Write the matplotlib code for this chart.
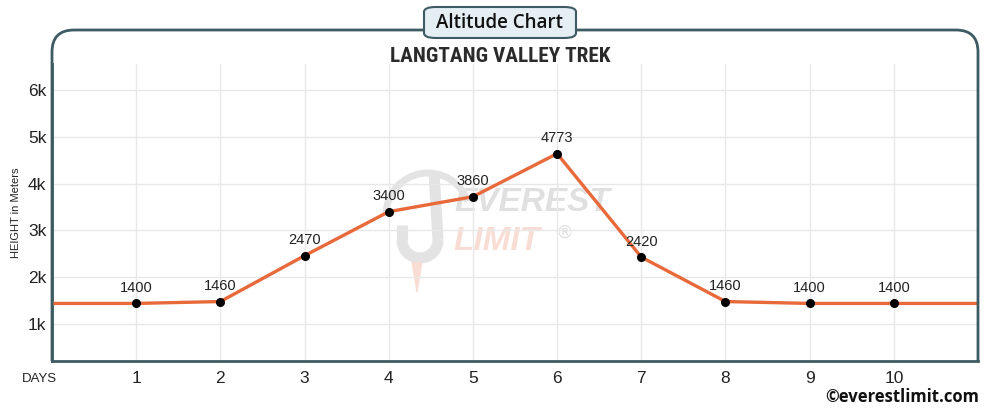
import matplotlib
matplotlib.use("Agg")
import matplotlib.pyplot as plt
from matplotlib import font_manager
from matplotlib.patches import FancyBboxPatch, Arc
from matplotlib.path import Path
from matplotlib.patches import PathPatch

days = [1, 2, 3, 4, 5, 6, 7, 8, 9, 10]
altitude = [1440, 1480, 2460, 3400, 3720, 4640, 2430, 1480, 1440, 1440]
labels = ["1400", "1460", "2470", "3400", "3860", "4773", "2420", "1460", "1400", "1400"]
ytick_vals = [1000, 2000, 3000, 4000, 5000, 6000]
ytick_labels = ["1k", "2k", "3k", "4k", "5k", "6k"]

FRAME = "#3e5a63"
LINE = "#e8693a"
SANS = "Liberation Sans"

# choose a condensed font for the subtitle if one is installed
names = {f.name for f in font_manager.fontManager.ttflist}
cond = None
for cand in ["Roboto Condensed", "Liberation Sans Narrow", "DejaVu Sans Condensed", "Open Sans Condensed"]:
    if cand in names:
        cond = cand
        break

fig = plt.figure(figsize=(10, 4.08), dpi=100)
W, H = 1000, 408

def fx(px):
    return px / W

def fy(py):
    return 1 - py / H

ax = fig.add_axes([fx(52), fy(361), fx(978) - fx(52), fy(64) - fy(361)])
ax.set_xlim(0, 11)
ax.set_ylim(210, 6555)
ax.set_xticks(range(0, 12))
ax.set_xticklabels([""] + [str(d) for d in days] + [""], family=SANS)
ax.set_yticks(ytick_vals)
ax.set_yticklabels(ytick_labels, family=SANS)
ax.grid(True, color="#e8e8e8", linewidth=1)
ax.set_axisbelow(True)
for s in ["top", "right"]:
    ax.spines[s].set_visible(False)
ax.spines["left"].set_color(FRAME)
ax.spines["bottom"].set_color(FRAME)
ax.spines["left"].set_linewidth(2)
ax.spines["bottom"].set_linewidth(2)
ax.tick_params(length=0, labelsize=12.5, colors="#222222")
ax.tick_params(axis="y", pad=4)
ax.tick_params(axis="x", pad=7)
ax.set_ylabel("HEIGHT in Meters", fontsize=8, color="#222222", labelpad=5, family=SANS)

# watermark text
ax.text(5.70, 3600, "EVEREST", fontsize=24, fontweight="bold", style="italic",
        color="#e0e0e0", ha="center", va="center", zorder=0.3, family=SANS)
ax.text(5.29, 2773, "LIMIT", fontsize=24, fontweight="bold", style="italic",
        color="#f8ddd4", ha="center", va="center", zorder=0.3, family=SANS)
ax.text(6.09, 2944, "®", fontsize=13, color="#e0e0e0", ha="center", va="center", zorder=0.3)

# watermark logo (drawn inside the axes, below the data)
WM = "#e3e3e3"
ax.add_patch(Arc((fx(428), fy(215)), fx(84), 84 / H, theta1=40, theta2=175,
                 transform=fig.transFigure, color=WM, linewidth=5, zorder=0.3))
ax.add_patch(Arc((fx(420), fy(240)), fx(36), 36 / H, theta1=180, theta2=360,
                 transform=fig.transFigure, color=WM, linewidth=8, zorder=0.3))
ax.add_patch(PathPatch(Path([(fx(438), fy(240)), (fx(434), fy(172))],
                            [Path.MOVETO, Path.LINETO]),
                       transform=fig.transFigure, edgecolor=WM, linewidth=8, zorder=0.3))
ax.add_patch(PathPatch(Path([(fx(402), fy(240)), (fx(402), fy(225))],
                            [Path.MOVETO, Path.LINETO]),
                       transform=fig.transFigure, edgecolor=WM, linewidth=8, zorder=0.3))
ax.add_patch(PathPatch(Path([(fx(412), fy(262)), (fx(417), fy(292)), (fx(422), fy(262))],
                            [Path.MOVETO, Path.LINETO, Path.LINETO]),
                       transform=fig.transFigure, edgecolor="#f8ddd4", facecolor="#f8ddd4",
                       linewidth=1, zorder=0.3))

# extended line
xs = [0] + days + [11]
ys = [altitude[0]] + altitude + [altitude[-1]]
ax.plot(xs, ys, color=LINE, linewidth=2.4, zorder=3, solid_joinstyle="round")
ax.plot(days, altitude, "o", color="black", markersize=5.5, zorder=4)
for d, a, lab in zip(days, altitude, labels):
    ax.annotate(lab, (d, a), xytext=(0, 6), textcoords="offset points",
                ha="center", va="bottom", fontsize=10.5, color="#222222", zorder=5,
                family=SANS)

# frame with rounded top corners
r = 22
x0, x1, y0, y1 = 52, 978, 30, 361
verts = [(x0, y1), (x0, y0 + r), (x0, y0), (x0 + r, y0), (x1 - r, y0), (x1, y0), (x1, y0 + r), (x1, y1)]
codes = [Path.MOVETO, Path.LINETO, Path.CURVE3, Path.CURVE3, Path.LINETO, Path.CURVE3, Path.CURVE3, Path.LINETO]
vf = [(fx(a), fy(b)) for a, b in verts]
fig.patches.append(PathPatch(Path(vf, codes), transform=fig.transFigure, fill=False,
                             edgecolor=FRAME, linewidth=2, zorder=10))

# title box
tb = FancyBboxPatch((fx(424), fy(38)), fx(576) - fx(424), fy(7) - fy(38),
                    boxstyle="round,pad=0,rounding_size=0.012", transform=fig.transFigure,
                    facecolor="#e4eef3", edgecolor=FRAME, linewidth=1.5, zorder=11)
fig.patches.append(tb)
fig.text(0.5, fy(22.5), "Altitude Chart", ha="center", va="center", fontsize=13.5,
         fontweight="semibold", color="#111111", family="Open Sans", zorder=12)
if cond:
    fig.text(0.5, fy(57), "LANGTANG VALLEY TREK", ha="center", va="center", fontsize=15.3,
             fontweight="bold", color="#2b2b2b", family=cond, zorder=12)
else:
    fig.text(0.5, fy(57), "LANGTANG VALLEY TREK", ha="center", va="center", fontsize=12.8,
             fontweight="bold", color="#2b2b2b", family="DejaVu Sans", zorder=12)

fig.text(fx(22), fy(379), "DAYS", ha="left", va="center", fontsize=9.5, color="#222222",
         family=SANS)
fig.text(fx(979), fy(397), "©everestlimit.com", ha="right", va="center", fontsize=12,
         fontweight="bold", color="#111111", family="Open Sans")

fig.savefig("out.png", dpi=100)
